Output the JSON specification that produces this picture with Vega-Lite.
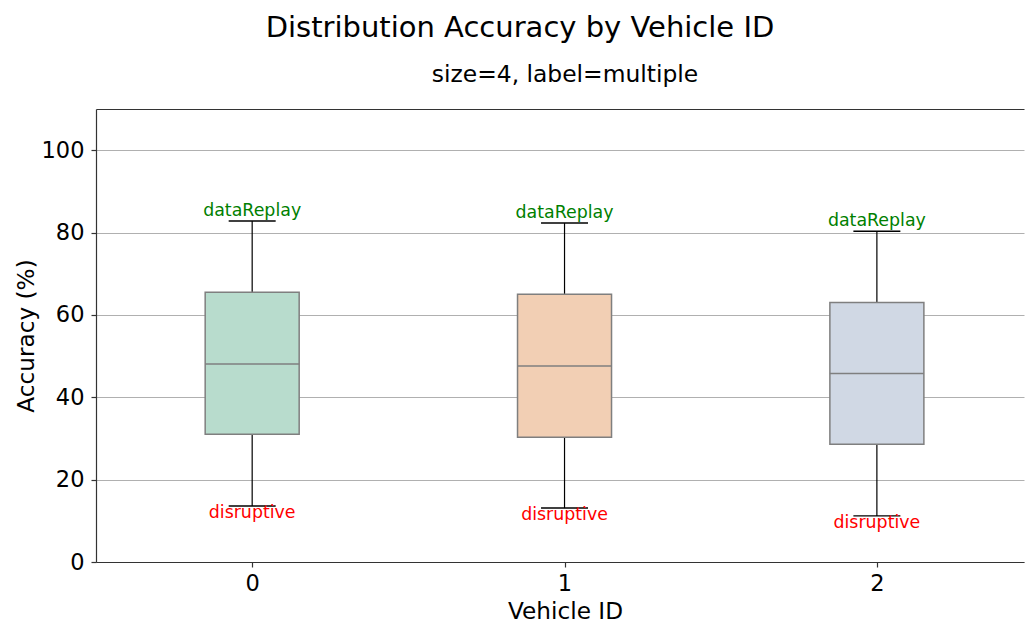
{
  "$schema": "https://vega.github.io/schema/vega-lite/v6.json",
  "width": 928,
  "height": 453,
  "autosize": "none",
  "padding": {"left": 96, "top": 109, "right": 1, "bottom": 62},
  "background": "white",
  "config": {
    "view": {"stroke": null},
    "font": "DejaVu Sans"
  },
  "title": {
    "text": "Distribution Accuracy by Vehicle ID",
    "fontSize": 29,
    "fontWeight": "normal",
    "font": "DejaVu Sans",
    "color": "black",
    "anchor": "middle",
    "frame": "group",
    "baseline": "alphabetic",
    "dx": -40,
    "offset": -4
  },
  "data": {
    "values": [
      {"vehicle": 0, "lo": 13.6, "q1": 31.0, "median": 48.1, "q3": 65.5, "hi": 82.8, "top_label": "dataReplay", "bottom_label": "disruptive"},
      {"vehicle": 1, "lo": 13.1, "q1": 30.3, "median": 47.6, "q3": 65.0, "hi": 82.3, "top_label": "dataReplay", "bottom_label": "disruptive"},
      {"vehicle": 2, "lo": 11.2, "q1": 28.6, "median": 45.8, "q3": 63.0, "hi": 80.3, "top_label": "dataReplay", "bottom_label": "disruptive"}
    ]
  },
  "resolve": {"axis": {"x": "independent", "y": "independent"}},
  "layer": [
    {
      "mark": {"type": "rule", "color": "black", "strokeWidth": 1.2},
      "encoding": {
        "x": {
          "field": "vehicle", "type": "quantitative",
          "scale": {"domain": [-0.5, 2.471], "nice": false, "zero": false, "padding": 0},
          "axis": {
            "orient": "bottom",
            "values": [0, 1, 2],
            "format": "d",
            "grid": false,
            "domainColor": "#333333",
            "domainWidth": 1.2,
            "tickColor": "#333333",
            "tickSize": 5,
            "tickWidth": 1.2,
            "labelFontSize": 22.5,
            "labelColor": "black",
            "labelFont": "DejaVu Sans",
            "labelBaseline": "alphabetic",
            "labelPadding": 23,
            "title": "Vehicle ID",
            "titleFontSize": 23.2,
            "titleFontWeight": "normal",
            "titleFont": "DejaVu Sans",
            "titleColor": "black",
            "titleBaseline": "alphabetic",
            "titleX": 469,
            "titleY": 56
          }
        },
        "y": {
          "field": "lo", "type": "quantitative",
          "scale": {"domain": [0, 110], "nice": false, "padding": 0},
          "axis": {
            "orient": "left",
            "values": [0, 20, 40, 60, 80, 100],
            "grid": true,
            "gridColor": "#b0b0b0",
            "gridWidth": 1,
            "domainColor": "#333333",
            "domainWidth": 1.2,
            "tickColor": "#333333",
            "tickSize": 5,
            "tickWidth": 1.2,
            "labelFontSize": 22.5,
            "labelColor": "black",
            "labelFont": "DejaVu Sans",
            "labelPadding": 7,
            "title": "Accuracy (%)",
            "titleFontSize": 23.2,
            "titleFontWeight": "normal",
            "titleFont": "DejaVu Sans",
            "titleColor": "black",
            "titleBaseline": "alphabetic",
            "titleX": -63,
            "titleY": 226.5
          }
        },
        "y2": {"field": "q1"}
      }
    },
    {
      "mark": {"type": "rule", "color": "black", "strokeWidth": 1.2},
      "encoding": {
        "x": {
          "field": "vehicle", "type": "quantitative",
          "axis": {
            "orient": "top",
            "labels": false,
            "ticks": false,
            "grid": false,
            "domainColor": "#333333",
            "domainWidth": 1.2,
            "title": "size=4, label=multiple",
            "titleFontSize": 23.4,
            "titleFontWeight": "normal",
            "titleFont": "DejaVu Sans",
            "titleColor": "black",
            "titleBaseline": "alphabetic",
            "titleX": 468.5,
            "titleY": -28
          }
        },
        "y": {"field": "q3", "type": "quantitative", "axis": null},
        "y2": {"field": "hi"}
      }
    },
    {
      "mark": {"type": "bar", "size": 94, "stroke": "#7f7f7f", "strokeWidth": 1.5, "opacity": 1},
      "encoding": {
        "x": {"field": "vehicle", "type": "quantitative", "axis": null},
        "y": {"field": "q1", "type": "quantitative", "axis": null},
        "y2": {"field": "q3"},
        "color": {
          "field": "vehicle", "type": "nominal",
          "scale": {"domain": [0, 1, 2], "range": ["#b8dccd", "#f2cfb4", "#d0d8e4"]},
          "legend": null
        }
      }
    },
    {
      "mark": {"type": "tick", "orient": "horizontal", "size": 94, "thickness": 1.5, "color": "#7f7f7f", "opacity": 1},
      "encoding": {
        "x": {"field": "vehicle", "type": "quantitative", "axis": null},
        "y": {"field": "median", "type": "quantitative", "axis": null}
      }
    },
    {
      "mark": {"type": "tick", "orient": "horizontal", "size": 47, "thickness": 1.4, "color": "black", "opacity": 1},
      "encoding": {
        "x": {"field": "vehicle", "type": "quantitative", "axis": null},
        "y": {"field": "hi", "type": "quantitative", "axis": null}
      }
    },
    {
      "mark": {"type": "tick", "orient": "horizontal", "size": 47, "thickness": 1.4, "color": "black", "opacity": 1},
      "encoding": {
        "x": {"field": "vehicle", "type": "quantitative", "axis": null},
        "y": {"field": "lo", "type": "quantitative", "axis": null}
      }
    },
    {
      "mark": {"type": "text", "color": "green", "fontSize": 17.4, "font": "DejaVu Sans", "baseline": "alphabetic", "align": "center", "dy": -5},
      "encoding": {
        "x": {"field": "vehicle", "type": "quantitative", "axis": null},
        "y": {"field": "hi", "type": "quantitative", "axis": null},
        "text": {"field": "top_label"}
      }
    },
    {
      "mark": {"type": "text", "color": "red", "fontSize": 17.4, "font": "DejaVu Sans", "baseline": "alphabetic", "align": "center", "dy": 12},
      "encoding": {
        "x": {"field": "vehicle", "type": "quantitative", "axis": null},
        "y": {"field": "lo", "type": "quantitative", "axis": null},
        "text": {"field": "bottom_label"}
      }
    }
  ]
}
